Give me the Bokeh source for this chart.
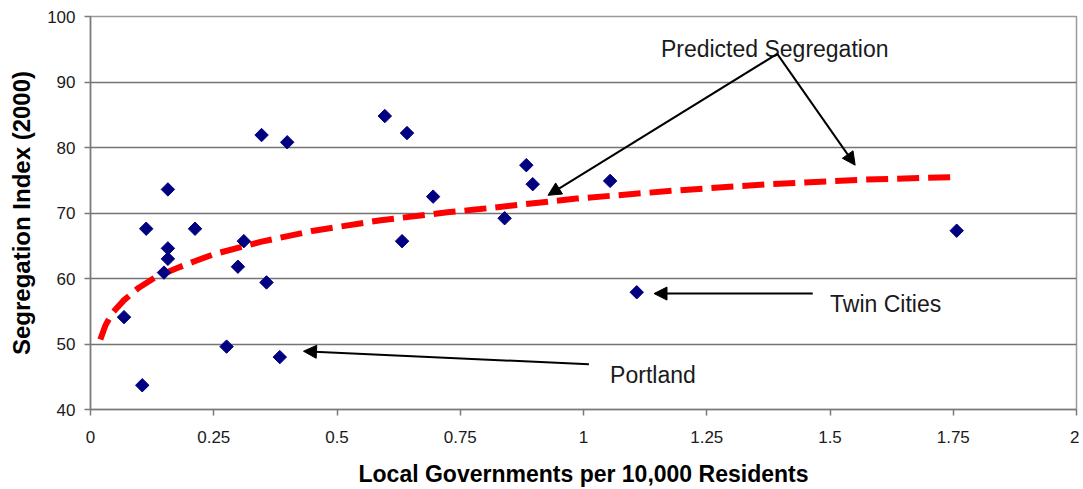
from bokeh.plotting import figure
from bokeh.models import ColumnDataSource, Range1d, FixedTicker, Label, Arrow, NormalHead
from bokeh.embed import file_html
from bokeh.resources import INLINE

# ---- data ----
gov_per_10k = [0.068, 0.105, 0.113, 0.157, 0.157, 0.157, 0.149, 0.212, 0.276, 0.299,
               0.311, 0.347, 0.357, 0.384, 0.399, 0.597, 0.642, 0.632, 0.695, 0.840,
               0.884, 0.897, 1.054, 1.108, 1.757]
seg_index = [54.1, 43.7, 67.6, 73.6, 64.6, 63.0, 60.9, 67.6, 49.6, 61.8,
             65.7, 81.9, 59.4, 48.0, 80.8, 84.8, 82.2, 65.7, 72.5, 69.2,
             77.3, 74.4, 74.9, 57.9, 67.3]

trend_x = [0.02, 0.03, 0.044, 0.068, 0.098, 0.132, 0.176, 0.21, 0.25, 0.345, 0.453,
           0.589, 0.724, 0.79, 0.986, 1.181, 1.376, 1.57, 1.755]
trend_y = [50.7, 52.8, 54.7, 56.7, 58.6, 60.2, 61.6, 62.6, 63.7, 65.6, 67.3,
           68.9, 70.1, 70.6, 72.2, 73.4, 74.4, 75.1, 75.5]

x_ticks = [0, 0.25, 0.5, 0.75, 1, 1.25, 1.5, 1.75, 2]
x_tick_labels = ["0", "0.25", "0.5", "0.75", "1", "1.25", "1.5", "1.75", "2"]
y_ticks = [40, 50, 60, 70, 80, 90, 100]

x_title = "Local Governments per 10,000 Residents"
y_title = "Segregation Index (2000)"

FONT = "Liberation Sans"

p = figure(width=1079, height=489, output_backend="svg", toolbar_location=None,
           x_range=Range1d(0, 2), y_range=Range1d(40, 100),
           min_border_left=90, min_border_right=3, min_border_top=16, min_border_bottom=79)
p.background_fill_color = "white"
p.border_fill_color = "white"
p.outline_line_color = "#9a9a9a"
p.outline_line_width = 1.5

# grid
p.xgrid.grid_line_color = None
p.ygrid.grid_line_color = "#747474"
p.ygrid.grid_line_width = 1.3

# axes
for ax in (p.xaxis[0], p.yaxis[0]):
    ax.axis_line_color = "#7a7a7a"
    ax.axis_line_width = 1.5
    ax.major_tick_line_color = "#7a7a7a"
    ax.major_tick_line_width = 1.5
    ax.major_tick_in = 0
    ax.major_tick_out = 6
    ax.minor_tick_line_color = None
    ax.major_label_text_font = FONT
    ax.major_label_text_font_size = "17px"
    ax.major_label_text_color = "#1a1a1a"
    ax.axis_label_text_font = FONT
    ax.axis_label_text_font_size = "23px"
    ax.axis_label_text_font_style = "bold"
    ax.axis_label_text_color = "black"

p.xaxis.ticker = FixedTicker(ticks=x_ticks)
p.xaxis.major_label_overrides = {t: lab for t, lab in zip(x_ticks, x_tick_labels)}
p.xaxis.major_label_standoff = 15
p.xaxis.axis_label = x_title
p.xaxis.axis_label_standoff = 15

p.yaxis.ticker = FixedTicker(ticks=y_ticks)
p.yaxis.major_label_standoff = 9
p.yaxis.axis_label = y_title
p.yaxis.axis_label_text_font_size = "24px"
p.yaxis.axis_label_standoff = 9

# trend line
p.line(trend_x, trend_y, line_color="#ff0000", line_width=6, line_dash="22 9", line_cap="butt")

# points
src = ColumnDataSource(dict(x=gov_per_10k, y=seg_index))
p.scatter("x", "y", source=src, marker="square", angle=0.785398, size=9.5,
          fill_color="#000080", line_color="#000080")

# annotations
def label(x, y, text):
    p.add_layout(Label(x=x, y=y, text=text, text_font=FONT, text_font_size="23px",
                       text_color="#1a1a1a", text_baseline="alphabetic", text_align="left"))

label(1.157, 95.1, "Predicted Segregation")
label(1.500, 56.1, "Twin Cities")
label(1.054, 45.3, "Portland")

def arrow(x0, y0, x1, y1):
    p.add_layout(Arrow(x_start=x0, y_start=y0, x_end=x1, y_end=y1, line_color="black",
                       line_width=2,
                       end=NormalHead(size=13, fill_color="black", line_color="black", line_width=1)))

arrow(1.393, 94.3, 0.928, 72.7)
arrow(1.393, 94.3, 1.551, 77.3)
arrow(1.465, 57.7, 1.143, 57.7)
arrow(1.011, 46.9, 0.432, 48.9)

open("out.html", "w").write(file_html(p, INLINE))
